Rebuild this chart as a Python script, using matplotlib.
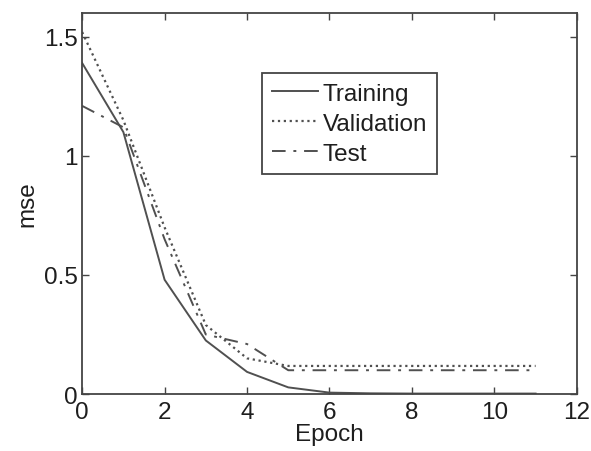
import matplotlib.pyplot as plt
import numpy as np

plt.rcParams['font.family'] = ['Liberation Sans', 'DejaVu Sans']

epoch = [0, 1, 2, 3, 4, 5, 6, 7, 8, 9, 10, 11]
training = [1.39, 1.10, 0.48, 0.225, 0.093, 0.028, 0.006, 0.003, 0.002, 0.002, 0.002, 0.002]
validation = [1.52, 1.15, 0.70, 0.29, 0.15, 0.118, 0.118, 0.118, 0.118, 0.118, 0.118, 0.118]
test = [1.21, 1.12, 0.65, 0.25, 0.21, 0.10, 0.10, 0.10, 0.10, 0.10, 0.10, 0.10]

xticks = [0, 2, 4, 6, 8, 10, 12]
yticks = [0, 0.5, 1, 1.5]
ytick_labels = ['0', '0.5', '1', '1.5']

fs = 17.5
txt = '#1e1e1e'
col = '#505050'

fig = plt.figure(figsize=(5.91, 4.52), dpi=100)
ax = fig.add_axes([0.139, 0.126, 0.837, 0.843])

ax.plot(epoch, training, '-', color=col, lw=1.4, label='Training')
ax.plot(epoch, validation, ':', color=col, lw=1.6, label='Validation')
ax.plot(epoch, test, '-.', color=col, lw=1.4, label='Test', dashes=(7, 4, 1.5, 4))

ax.set_xlim(0, 12)
ax.set_ylim(0, 1.6)
ax.set_xticks(xticks)
ax.set_yticks(yticks)
ax.set_yticklabels(ytick_labels)
ax.tick_params(direction='in', top=True, right=True, length=5, width=1,
               color='#444444', labelsize=fs, labelcolor=txt)
ax.tick_params(axis='x', pad=5)
ax.tick_params(axis='y', pad=3)
for s in ax.spines.values():
    s.set_color('#444444')
    s.set_linewidth(1.3)

ax.set_xlabel('Epoch', fontsize=fs, labelpad=0, color=txt)
ax.set_ylabel('mse', fontsize=fs, labelpad=4, color=txt)

leg = ax.legend(loc='upper left', bbox_to_anchor=(0.364, 0.842), borderaxespad=0,
                fontsize=fs, fancybox=False, framealpha=1, edgecolor='#444444',
                handlelength=1.9, handletextpad=0.2, labelspacing=0.32,
                borderpad=0.4)
leg.get_frame().set_linewidth(1.3)
for t in leg.get_texts():
    t.set_color(txt)

fig.savefig('out.png', dpi=100)
